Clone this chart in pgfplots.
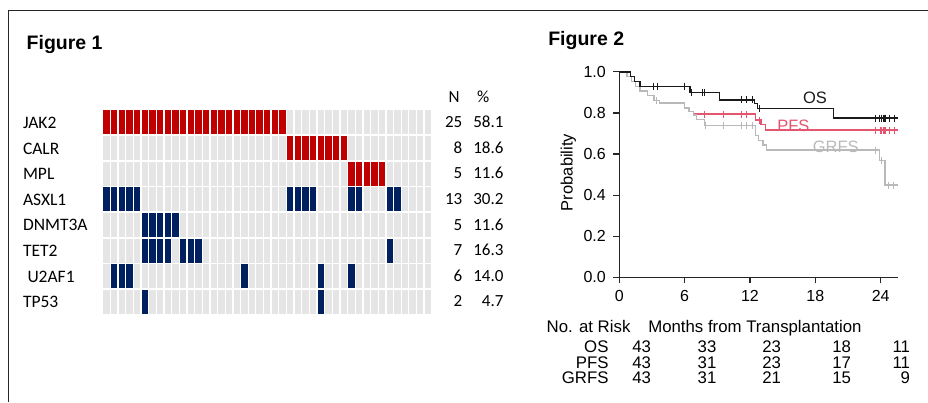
\documentclass[border=0pt]{standalone}
\usepackage{pgfplots}
\pgfplotsset{compat=1.18}
\usepackage{fontspec}
\setmainfont{Liberation Sans}
\newfontfamily\calfont{Carlito}
\definecolor{hred}{HTML}{C00000}
\definecolor{hnavy}{HTML}{002060}
\definecolor{hgrey}{HTML}{E5E5E5}
\definecolor{pfscol}{HTML}{E4566F}
\definecolor{grfscol}{HTML}{B9B9B9}
\definecolor{oscol}{HTML}{1A1A1A}
\pgfdeclareplotmark{cell}{\pgfpathrectangle{\pgfpoint{-3.18bp}{-11.97bp}}{\pgfpoint{6.36bp}{23.94bp}}\pgfusepathqfill}
\begin{document}
\begin{tikzpicture}[x=1bp,y=1bp, txt/.style={inner sep=0pt, outer sep=0pt}]
\path[use as bounding box] (0,0) rectangle (928,402);
\draw[line width=1.2bp, black!85] (8.3,0) -- (8.3,391.3) -- (928,391.3);

% ---------- Figure 1 ----------
\node[txt, anchor=west, font=\fontsize{19.5bp}{22bp}\selectfont\bfseries] at (26.7,357) {Figure 1};
\begin{axis}[
  at={(102.8bp,292.4bp)}, anchor=north west,
  x=7.65bp, y=25.65bp, y dir=reverse,
  xmin=-0.5, xmax=42.5, ymin=-0.5, ymax=7.5,
  xtick={-0.5,0.5,...,42.5}, ytick={-0.5,0.5,...,7.5},
  xticklabels={}, yticklabels={},
  major tick length=0pt, tick style={draw=none},
  axis line style={draw=none},
  grid=major,
  x grid style={white, line width=1.3bp},
  y grid style={white, line width=1.7bp},
  axis background/.style={fill=hgrey},
  clip=false,
]
\addplot[only marks, mark=cell, color=hred, mark options={fill=hred}] coordinates {
(0,0)(1,0)(2,0)(3,0)(4,0)(5,0)(6,0)(7,0)(8,0)(9,0)(10,0)(11,0)(12,0)(13,0)(14,0)(15,0)(16,0)(17,0)(18,0)(19,0)(20,0)(21,0)(22,0)(23,0)
(24,1)(25,1)(26,1)(27,1)(28,1)(29,1)(30,1)(31,1)
(32,2)(33,2)(34,2)(35,2)(36,2)
};
\addplot[only marks, mark=cell, color=hnavy, mark options={fill=hnavy}] coordinates {
(0,3)(1,3)(2,3)(3,3)(4,3)(24,3)(25,3)(26,3)(27,3)(32,3)(33,3)(37,3)(38,3)
(5,4)(6,4)(7,4)(8,4)(9,4)
(5,5)(6,5)(7,5)(8,5)(10,5)(11,5)(12,5)(37,5)
(1,6)(2,6)(3,6)(18,6)(28,6)(32,6)
(5,7)(28,7)
};
\end{axis}
\begin{scope}[every node/.style={txt, font=\calfont\fontsize{17.5bp}{20bp}\selectfont}]
\node[anchor=base west] at (23,273.5) {JAK2};
\node[anchor=base west] at (23,247.9) {CALR};
\node[anchor=base west] at (23,222.3) {MPL};
\node[anchor=base west] at (23,196.7) {ASXL1};
\node[anchor=base west] at (23,171.1) {DNMT3A};
\node[anchor=base west] at (23,145.5) {TET2};
\node[anchor=base west] at (27.5,119.9) {U2AF1};
\node[anchor=base west] at (23,94.3) {TP53};
\end{scope}
\begin{scope}[every node/.style={txt, font=\calfont\fontsize{17bp}{20bp}\selectfont}]
\node[anchor=base] at (454.2,299.7) {N};
\node[anchor=base] at (483.3,299.7) {\%};
\node[anchor=base east] at (462.3,274.3) {25};  \node[anchor=base east] at (503.5,274.3) {58.1};
\node[anchor=base east] at (462.3,248.7) {8};   \node[anchor=base east] at (503.5,248.7) {18.6};
\node[anchor=base east] at (462.3,223.1) {5};   \node[anchor=base east] at (503.5,223.1) {11.6};
\node[anchor=base east] at (462.3,197.5) {13};  \node[anchor=base east] at (503.5,197.5) {30.2};
\node[anchor=base east] at (462.3,171.9) {5};   \node[anchor=base east] at (503.5,171.9) {11.6};
\node[anchor=base east] at (462.3,146.3) {7};   \node[anchor=base east] at (503.5,146.3) {16.3};
\node[anchor=base east] at (462.3,120.7) {6};   \node[anchor=base east] at (503.5,120.7) {14.0};
\node[anchor=base east] at (462.3,95.1) {2};    \node[anchor=base east] at (503.5,95.1) {4.7};
\end{scope}

% ---------- Figure 2 ----------
\node[txt, anchor=west, font=\fontsize{19.5bp}{22bp}\selectfont\bfseries] at (548.3,361.3) {Figure 2};
\begin{axis}[
  at={(619.3bp,124.6bp)}, anchor=south west,
  x=10.89bp, y=205.5bp,
  xmin=0, xmax=25.56, ymin=0, ymax=1,
  axis lines=left, axis line style={-, line width=1.2bp, black!85},
  tick align=outside, major tick length=6bp, tick style={line width=1.2bp, black!85},
  xtick={0,6,12,18,24}, ytick={0,0.2,0.4,0.6,0.8,1},
  yticklabel style={xshift=-4bp, /pgf/number format/.cd, fixed, fixed zerofill, precision=1},
  xticklabel style={yshift=-3bp},
  ticklabel style={font=\fontsize{16bp}{18bp}\selectfont},
  /pgf/number format/assume math mode=true,
  clip=false,
]
\addplot[const plot, pfscol, line width=1.4bp] coordinates {
(0,1)(0.7,0.977)(1.1,0.953)(1.5,0.930)(1.9,0.907)(2.6,0.884)(3.2,0.860)(3.7,0.848)(6.0,0.824)(6.4,0.808)(6.8,0.795)(12.5,0.765)(13.0,0.745)(13.4,0.717)(25.56,0.717)};
\addplot[only marks, mark=|, mark size=3.5bp, pfscol, mark options={line width=1.1bp}] coordinates {
(7.8,0.795)(9.55,0.795)(11.2,0.795)(11.65,0.795)(12.9,0.765)(23.5,0.717)(23.95,0.717)(24.1,0.717)(24.25,0.717)(24.4,0.717)(24.85,0.717)(25.3,0.717)};
\addplot[const plot, grfscol, line width=1.4bp] coordinates {
(0,1)(0.7,0.977)(1.1,0.953)(1.5,0.930)(1.9,0.907)(2.6,0.884)(3.2,0.860)(3.7,0.848)(6.0,0.824)(6.4,0.808)(6.8,0.790)(7.1,0.768)(7.8,0.738)(12.5,0.690)(12.8,0.665)(13.2,0.645)(13.5,0.619)(23.9,0.570)(24.4,0.449)(25.56,0.449)};
\addplot[only marks, mark=|, mark size=3.5bp, grfscol, mark options={line width=1.1bp}] coordinates {
(3.4,0.860)(7.9,0.738)(9.55,0.738)(11.2,0.738)(11.65,0.738)(12.2,0.738)(23.5,0.619)(24.1,0.570)(24.7,0.449)(25.2,0.449)};
\addplot[const plot, oscol, line width=1.4bp] coordinates {
(0,1)(1.0,0.977)(1.4,0.953)(1.9,0.930)(6.5,0.900)(9.2,0.864)(12.4,0.845)(12.7,0.822)(19.65,0.775)(25.56,0.775)};
\addplot[only marks, mark=|, mark size=3.5bp, oscol, mark options={line width=1.1bp}] coordinates {
(3.1,0.930)(3.5,0.930)(5.95,0.930)(6.6,0.900)(7.6,0.900)(7.8,0.900)(11.2,0.864)(11.65,0.864)(12.2,0.864)(12.9,0.822)(23.5,0.775)(23.9,0.775)(24.1,0.775)(24.25,0.775)(24.4,0.775)(24.85,0.775)(25.3,0.775)};
\node[oscol, font=\fontsize{16.5bp}{18bp}\selectfont] at (axis cs:17.97,0.875) {OS};
\node[pfscol, font=\fontsize{16.5bp}{18bp}\selectfont] at (axis cs:15.98,0.738) {PFS};
\node[grfscol, font=\fontsize{16.5bp}{18bp}\selectfont] at (axis cs:19.88,0.636) {GRFS};
\end{axis}
\node[txt, rotate=90, font=\fontsize{16.5bp}{18bp}\selectfont] at (568.3,229.5) {Probability};
\begin{scope}[every node/.style={txt, font=\fontsize{16.8bp}{18bp}\selectfont}]
\node[anchor=base west] at (546.7,70) {No. at Risk};
\node[anchor=base west] at (648.3,70) {Months from Transplantation};
\node[anchor=base east] at (608.5,49.3) {OS};
\node[anchor=base east] at (608.5,33.7) {PFS};
\node[anchor=base east] at (608.5,18.7) {GRFS};
\node[anchor=base] at (641.7,49.3) {43}; \node[anchor=base] at (707,49.3) {33}; \node[anchor=base] at (771.7,49.3) {23}; \node[anchor=base] at (841.7,49.3) {18}; \node[anchor=base east] at (910,49.3) {11};
\node[anchor=base] at (641.7,33.7) {43}; \node[anchor=base] at (707,33.7) {31}; \node[anchor=base] at (771.7,33.7) {23}; \node[anchor=base] at (841.7,33.7) {17}; \node[anchor=base east] at (910,33.7) {11};
\node[anchor=base] at (641.7,18.7) {43}; \node[anchor=base] at (707,18.7) {31}; \node[anchor=base] at (771.7,18.7) {21}; \node[anchor=base] at (841.7,18.7) {15}; \node[anchor=base east] at (910,18.7) {9};
\end{scope}
\end{tikzpicture}
\end{document}
